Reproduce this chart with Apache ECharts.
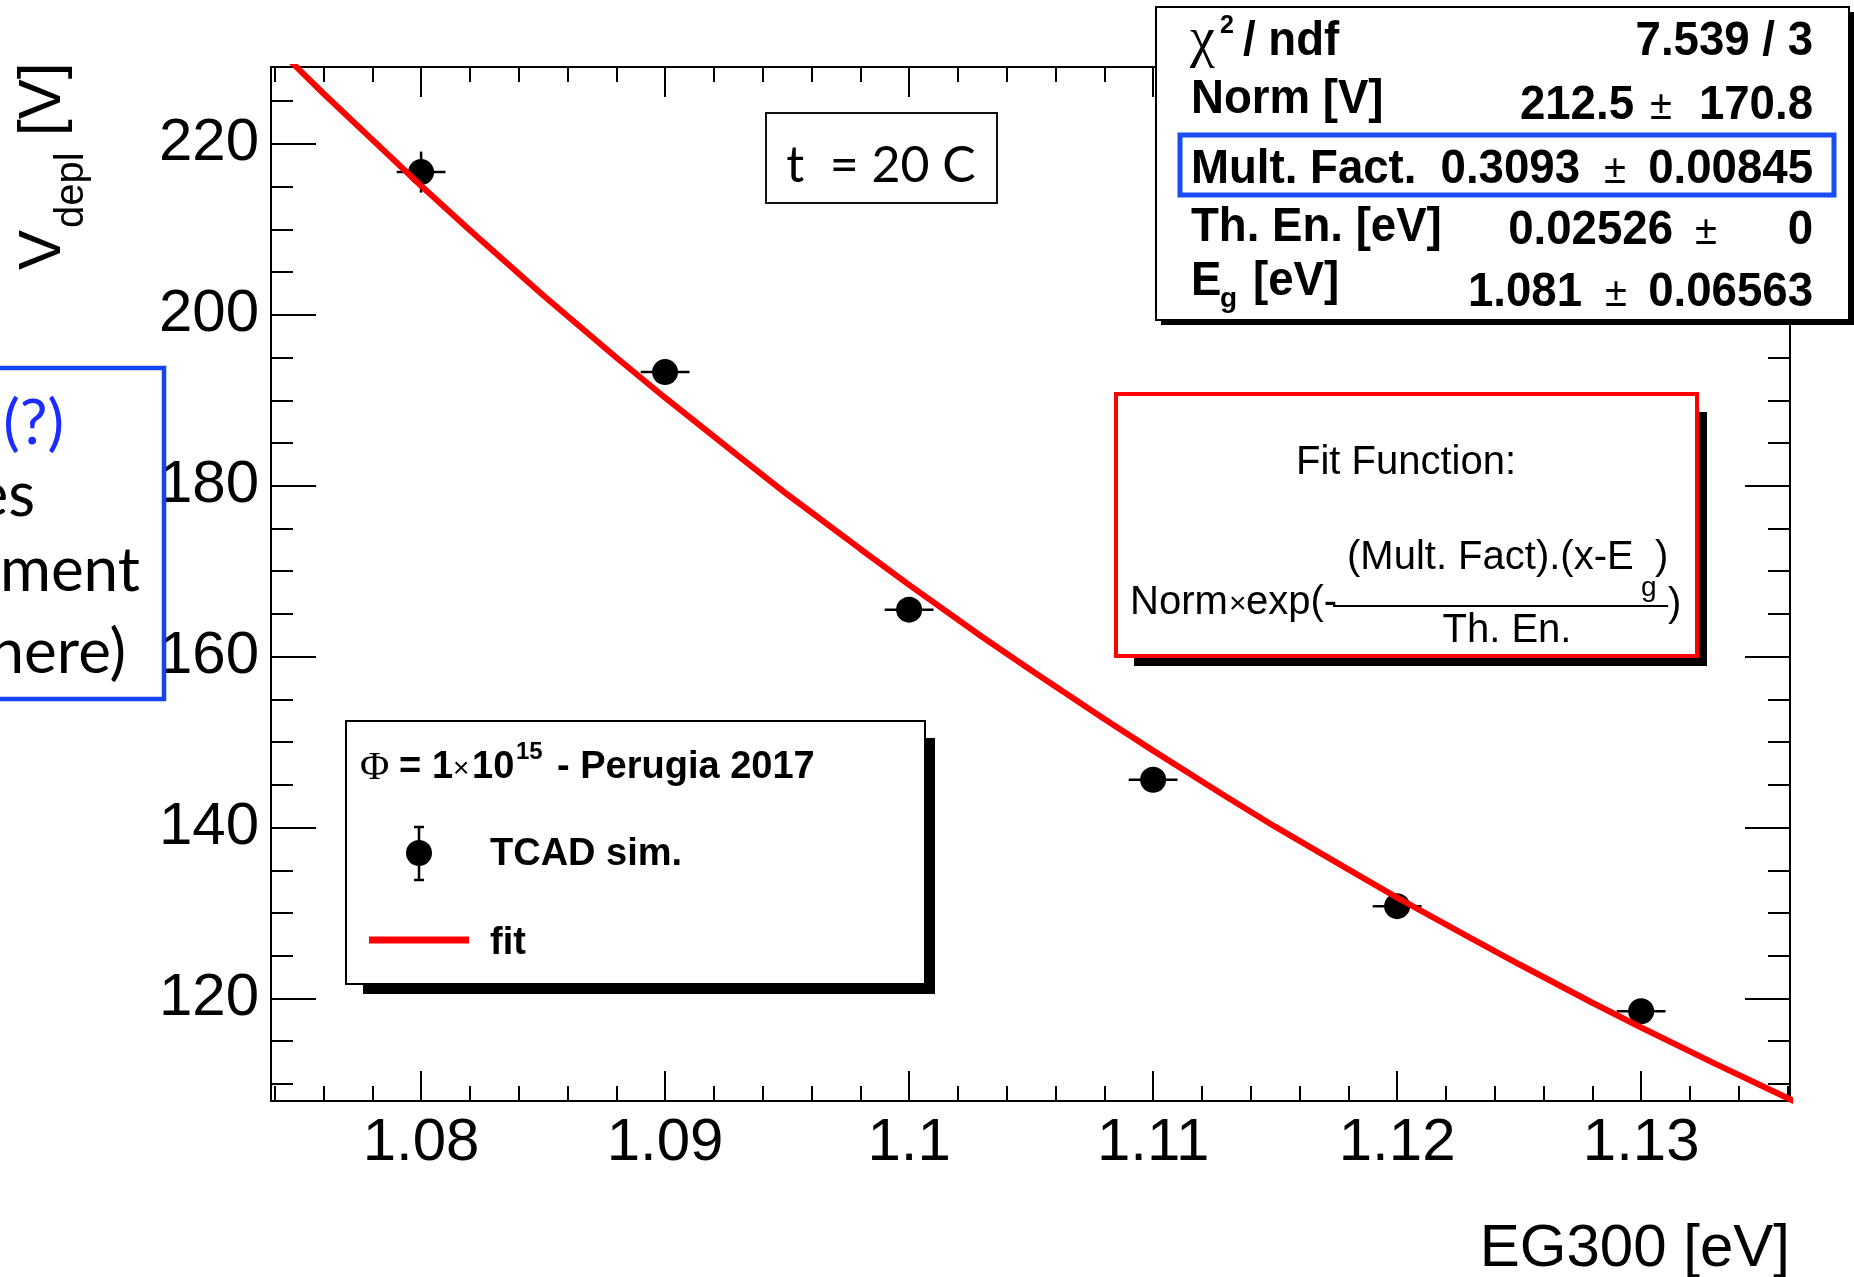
<!DOCTYPE html>
<html>
<head>
<meta charset="utf-8">
<script src="https://cdn.jsdelivr.net/npm/echarts@6/dist/echarts.min.js"></script>
<style>
  html, body { margin: 0; padding: 0; background: #ffffff; }
  #chart { width: 1854px; height: 1277px; }
</style>
</head>
<body>
<div id="chart"></div>
<script>
// Depletion voltage versus EG300: TCAD simulation points and exponential fit.

// ---- axis ranges and tick positions ----
const X_MIN = 1.07385, X_MAX = 1.1361;
const Y_MIN = 108.0, Y_MAX = 229.0;
const X_MAJOR = [1.08, 1.09, 1.10, 1.11, 1.12, 1.13];
const X_MINOR = [1.074, 1.076, 1.078, 1.082, 1.084, 1.086, 1.088, 1.092, 1.094, 1.096, 1.098,
                 1.102, 1.104, 1.106, 1.108, 1.112, 1.114, 1.116, 1.118, 1.122, 1.124, 1.126,
                 1.128, 1.132, 1.134, 1.136];
const Y_MAJOR = [120, 140, 160, 180, 200, 220];
const Y_MINOR = [110, 115, 125, 130, 135, 145, 150, 155, 165, 170, 175, 185, 190, 195,
                 205, 210, 215, 225];

// ---- TCAD simulation points ----
const EG300 = [1.08, 1.09, 1.10, 1.11, 1.12, 1.13];
const VDEPL = [216.7, 193.3, 165.5, 145.6, 130.8, 118.5];
const EG300_ERR = [0.001, 0.001, 0.001, 0.001, 0.001, 0.001];
const VDEPL_ERR = [2.4, 1.0, 1.0, 1.0, 1.0, 1.0];

// ---- fitted curve ----
const FIT_X = [1.074, 1.076, 1.078, 1.080, 1.082, 1.085, 1.088, 1.090, 1.093, 1.095, 1.098,
               1.100, 1.103, 1.105, 1.108, 1.110, 1.113, 1.115, 1.118, 1.120, 1.123, 1.125,
               1.128, 1.130, 1.133, 1.135, 1.137];
const FIT_Y = [231.5, 225.9, 220.5, 215.1, 209.9, 202.3, 195.0, 190.3, 183.5, 179.0, 172.6,
               168.4, 162.3, 158.4, 152.7, 149.0, 143.6, 140.1, 135.1, 131.8, 127.1, 124.0,
               119.5, 116.6, 112.4, 109.7, 107.0];

// ---- fit statistics ----
const STAT_LABELS = ['/ ndf', 'Norm [V]', 'Mult. Fact.', 'Th. En. [eV]', '[eV]'];
const STAT_VALUES = ['7.539 / 3', '212.5', '0.3093', '0.02526', '1.081'];
const STAT_ERRORS = [null, '170.8', '0.00845', '0', '0.06563'];

// ---- annotation texts ----
const TEMP_TEXT = 't  = 20 C';
const NOTE_LINES = ['(?)', 'es', 'ment', 'here)'];
const LEGEND_TITLE = ['=', '1', '×', '10', '15', '- Perugia 2017'];
const LEGEND_ITEMS = ['TCAD sim.', 'fit'];

const SANS = '"Liberation Sans", Arial, Helvetica, sans-serif';
const SERIF = '"Liberation Serif", "DejaVu Serif", serif';
const CAL = 'Lato, "Open Sans", sans-serif';

// text helper: y is the visual centre of capital letters
function txt(x, y, text, size, opt) {
  opt = opt || {};
  const fam = opt.family || SANS;
  const off = opt.off !== undefined ? opt.off : 0.05 * size;
  const al = opt.align || 'left';
  return {
    type: 'text', x: x, y: y + off, z: opt.z || 110,
    scaleX: opt.sx || 1,
    style: {
      text: text,
      font: (opt.bold ? 'bold ' : '') + size + 'px ' + fam,
      fill: opt.color || '#000',
      align: al, textAlign: al,
      verticalAlign: 'middle', textVerticalAlign: 'middle'
    }
  };
}
function rect(x, y, w, h, style, z) {
  return { type: 'rect', z: z || 100, shape: { x: x, y: y, width: w, height: h }, style: style };
}
function line(x1, y1, x2, y2, color, w, z) {
  return { type: 'line', z: z || 110, shape: { x1: x1, y1: y1, x2: x2, y2: y2 },
           style: { stroke: color, lineWidth: w } };
}
// box with the offset drop shadow used for the panes
function shadowBox(x, y, w, h, d, inset, stroke, lw) {
  return [
    rect(x + inset, y + h, w + d - inset, d, { fill: '#000' }, 98),
    rect(x + w, y + inset, d, h + d - inset, { fill: '#000' }, 98),
    rect(x, y, w, h, { fill: '#fff', stroke: stroke, lineWidth: lw }, 99)
  ];
}

const fmtX = v => String(+v.toFixed(3));
const fmtY = v => String(Math.round(v));

function xAxis(pos, ticks, len, showLine, showLabel) {
  return {
    type: 'value', min: X_MIN, max: X_MAX, position: pos,
    axisLine: { show: showLine, onZero: false, lineStyle: { color: '#000', width: 2 } },
    axisTick: { show: true, inside: true, length: len, customValues: ticks,
                lineStyle: { color: '#000', width: 2 } },
    axisLabel: { show: showLabel, customValues: ticks, formatter: fmtX, margin: 12,
                 fontSize: 60, fontFamily: SANS, color: '#000' },
    splitLine: { show: false }, minorTick: { show: false }
  };
}
function yAxis(pos, ticks, len, showLine, showLabel) {
  return {
    type: 'value', min: Y_MIN, max: Y_MAX, position: pos,
    axisLine: { show: showLine, onZero: false, lineStyle: { color: '#000', width: 2 } },
    axisTick: { show: true, inside: true, length: len, customValues: ticks,
                lineStyle: { color: '#000', width: 2 } },
    axisLabel: { show: showLabel, customValues: ticks, formatter: fmtY, margin: 12,
                 fontSize: 60, fontFamily: SANS, color: '#000' },
    splitLine: { show: false }, minorTick: { show: false }
  };
}

// ---- decorations: titles, legend, statistics, fit-function pane ----
const graphics = [];

// y-axis title, rotated
graphics.push({
  type: 'group', x: 0, y: 270, rotation: Math.PI / 2, z: 110,
  children: [
    txt(0, 40.5, 'V', 60),
    txt(42, 70.3, 'depl', 40),
    txt(134, 40.5, '[V]', 60)
  ]
});
// x-axis title
graphics.push(txt(1790, 1246, 'EG300 [eV]', 60, { align: 'right' }));

// temperature label
graphics.push(rect(766, 113, 231, 90, { fill: '#fff', stroke: '#111', lineWidth: 2 }, 99));
graphics.push(txt(881, 164, TEMP_TEXT, 50, { family: CAL, align: 'center', off: 2 }));

// side note box (runs off the left edge)
graphics.push(rect(-10, 368, 174, 331, { fill: 'none', stroke: '#1443f2', lineWidth: 4.5 }, 99));
graphics.push(txt(64, 422, NOTE_LINES[0], 62, { family: CAL, align: 'right', color: '#1a2cff', off: 2 }));
graphics.push(txt(35, 500, NOTE_LINES[1], 62, { family: CAL, align: 'right', off: -4 }));
graphics.push(txt(140, 575, NOTE_LINES[2], 62, { family: CAL, align: 'right', off: -4 }));
graphics.push(txt(126, 657, NOTE_LINES[3], 62, { family: CAL, align: 'right', off: -4 }));

// legend pane
shadowBox(346, 721, 579, 263, 10, 17, '#000', 2).forEach(g => graphics.push(g));
graphics.push(txt(360, 766, 'Φ', 40, { family: SERIF }));
graphics.push(txt(399, 766, LEGEND_TITLE[0], 38, { bold: true }));
graphics.push(txt(432, 766, LEGEND_TITLE[1], 38, { bold: true }));
graphics.push(txt(453, 768, LEGEND_TITLE[2], 28));
graphics.push(txt(472, 766, LEGEND_TITLE[3], 38, { bold: true }));
graphics.push(txt(516, 751, LEGEND_TITLE[4], 24, { bold: true }));
graphics.push(txt(557, 766, LEGEND_TITLE[5], 38, { bold: true }));
graphics.push(line(419, 827, 419, 880, '#000', 2.5));
graphics.push(line(414, 827, 424, 827, '#000', 2.5));
graphics.push(line(414, 880, 424, 880, '#000', 2.5));
graphics.push({ type: 'circle', z: 111, shape: { cx: 419, cy: 853, r: 13 }, style: { fill: '#000' } });
graphics.push(txt(490, 853, LEGEND_ITEMS[0], 38, { bold: true }));
graphics.push(line(369, 940, 469, 940, '#ff0000', 7));
graphics.push(txt(490, 942, LEGEND_ITEMS[1], 38, { bold: true }));

// statistics pane
shadowBox(1156, 7, 693, 313, 5, 5, '#000', 2).forEach(g => graphics.push(g));
graphics.push(rect(1180, 135, 654, 60, { fill: 'none', stroke: '#1a4cf5', lineWidth: 5 }, 105));
const ROW_LBL_Y = [39, 97, 167, 225, 279];
const ROW_VAL_Y = [39, 103, 167, 228, 290];
const VAL_RIGHT = [1813, 1634, 1580, 1673, 1582];
const PM_X = [null, 1661, 1615, 1706, 1616];
const SB = 48, SX = 0.95;
graphics.push(txt(1190, 38, 'χ', 56, { family: SERIF }));
graphics.push(txt(1220, 25, '2', 25, { bold: true }));
graphics.push(txt(1243, ROW_LBL_Y[0], STAT_LABELS[0], SB, { bold: true, sx: SX }));
graphics.push(txt(1191, ROW_LBL_Y[1], STAT_LABELS[1], SB, { bold: true, sx: SX }));
graphics.push(txt(1191, ROW_LBL_Y[2], STAT_LABELS[2], SB, { bold: true, sx: SX }));
graphics.push(txt(1191, ROW_LBL_Y[3], STAT_LABELS[3], SB, { bold: true, sx: SX }));
graphics.push(txt(1191, ROW_LBL_Y[4], 'E', SB, { bold: true, sx: SX }));
graphics.push(txt(1220, 298, 'g', 28, { bold: true }));
graphics.push(txt(1253, ROW_LBL_Y[4], STAT_LABELS[4], SB, { bold: true, sx: SX }));
for (let i = 0; i < STAT_VALUES.length; i++) {
  graphics.push(txt(VAL_RIGHT[i], ROW_VAL_Y[i], STAT_VALUES[i], SB, { bold: true, align: 'right', sx: SX }));
  if (STAT_ERRORS[i] !== null) {
    graphics.push(txt(PM_X[i], ROW_VAL_Y[i] + 3, '±', 40, { align: 'center' }));
    graphics.push(txt(1813, ROW_VAL_Y[i], STAT_ERRORS[i], SB, { bold: true, align: 'right', sx: SX }));
  }
}

// fit-function pane
shadowBox(1116, 394, 581, 262, 10, 18, '#ff0000', 4).forEach(g => graphics.push(g));
graphics.push(txt(1406, 461, 'Fit Function:', 40, { align: 'center' }));
graphics.push(txt(1130, 601, 'Norm', 40));
graphics.push(txt(1229, 603, '×', 30));
graphics.push(txt(1246, 601, 'exp(-', 40));
graphics.push(txt(1347, 556, '(Mult. Fact).(x-E', 40));
graphics.push(txt(1641, 587, 'g', 28));
graphics.push(txt(1655, 556, ')', 40));
graphics.push(line(1333, 606, 1668, 606, '#000', 2));
graphics.push(txt(1507, 629, 'Th. En.', 40, { align: 'center' }));
graphics.push(txt(1668, 603, ')', 40));

// ---- chart ----
const chart = echarts.init(document.getElementById('chart'), null, { renderer: 'canvas' });
chart.setOption({
  animation: false,
  backgroundColor: '#ffffff',
  grid: { left: 271, right: 64, top: 67, bottom: 176, containLabel: false, outerBoundsMode: 'none' },
  xAxis: [
    xAxis('bottom', X_MAJOR, 30, true, true),
    xAxis('bottom', X_MINOR, 15, false, false),
    xAxis('top', X_MAJOR, 30, true, false),
    xAxis('top', X_MINOR, 15, false, false)
  ],
  yAxis: [
    yAxis('left', Y_MAJOR, 45, true, true),
    yAxis('left', Y_MINOR, 22, false, false),
    yAxis('right', Y_MAJOR, 45, true, false),
    yAxis('right', Y_MINOR, 22, false, false)
  ],
  series: [
    {
      type: 'custom', xAxisIndex: 0, yAxisIndex: 0, z: 3,
      data: EG300.map((x, i) => [x, VDEPL[i], EG300_ERR[i], VDEPL_ERR[i]]),
      encode: { x: 0, y: 1 },
      renderItem: function (params, api) {
        const x = api.value(0), y = api.value(1), ex = api.value(2), ey = api.value(3);
        const l = api.coord([x - ex, y]), r = api.coord([x + ex, y]);
        const t = api.coord([x, y + ey]), b = api.coord([x, y - ey]);
        return {
          type: 'group',
          children: [
            { type: 'line', shape: { x1: l[0], y1: l[1], x2: r[0], y2: r[1] },
              style: { stroke: '#000', lineWidth: 2.5 } },
            { type: 'line', shape: { x1: t[0], y1: t[1], x2: b[0], y2: b[1] },
              style: { stroke: '#000', lineWidth: 2.5 } }
          ]
        };
      }
    },
    {
      type: 'scatter', xAxisIndex: 0, yAxisIndex: 0, z: 4,
      data: EG300.map((x, i) => [x, VDEPL[i]]),
      symbol: 'circle', symbolSize: 26,
      itemStyle: { color: '#000', opacity: 1 }
    },
    {
      type: 'line', xAxisIndex: 0, yAxisIndex: 0, z: 5,
      data: FIT_X.map((x, i) => [x, FIT_Y[i]]),
      showSymbol: false, symbol: 'none', smooth: false, clip: true,
      lineStyle: { color: '#ff0000', width: 6 }
    }
  ],
  graphic: graphics
});
</script>
</body>
</html>
